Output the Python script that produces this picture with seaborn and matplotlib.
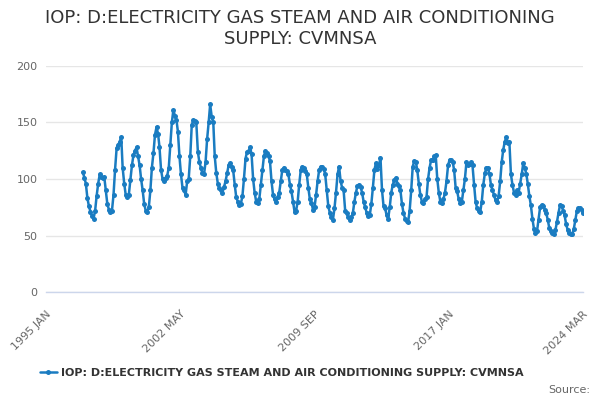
import numpy as np
import pandas as pd
import seaborn as sns
import matplotlib
matplotlib.use("Agg")
from matplotlib import pyplot as plt

# monthly values, Jan 1997 .. Mar 2024
v1997 = [106, 101, 96, 83, 76, 71, 67, 65, 72, 85, 96, 104]
v1998 = [102, 101, 102, 90, 78, 73, 71, 72, 86, 108, 127, 130]
v1999 = [133, 137, 110, 96, 86, 84, 86, 99, 112, 121, 125, 128]
v2000 = [120, 112, 100, 90, 78, 72, 71, 75, 90, 110, 123, 139]
v2001 = [146, 140, 128, 108, 100, 98, 101, 103, 110, 130, 150, 161]
v2002 = [156, 152, 142, 120, 104, 92, 90, 86, 98, 100, 120, 148]
v2003 = [152, 151, 150, 124, 115, 110, 105, 104, 115, 135, 150, 166]
v2004 = [155, 150, 120, 105, 96, 92, 90, 88, 93, 98, 105, 112]
v2005 = [114, 111, 108, 95, 84, 80, 77, 78, 85, 100, 118, 124]
v2006 = [125, 128, 122, 100, 88, 80, 79, 82, 95, 108, 120, 125]
v2007 = [123, 120, 116, 98, 86, 82, 80, 84, 88, 98, 108, 110]
v2008 = [108, 107, 104, 95, 89, 80, 71, 72, 80, 95, 108, 111]
v2009 = [110, 107, 104, 92, 82, 79, 73, 75, 86, 98, 108, 111]
v2010 = [111, 109, 104, 90, 76, 70, 66, 64, 74, 88, 104, 111]
v2011 = [98, 92, 90, 72, 70, 66, 64, 66, 70, 80, 88, 94]
v2012 = [95, 93, 88, 80, 75, 70, 67, 68, 78, 92, 108, 114]
v2013 = [109, 112, 119, 90, 76, 74, 68, 65, 75, 88, 95, 99]
v2014 = [101, 96, 94, 90, 78, 70, 65, 63, 62, 72, 90, 111]
v2015 = [116, 115, 108, 96, 86, 80, 79, 82, 84, 100, 110, 117]
v2016 = [117, 120, 121, 100, 88, 80, 79, 82, 88, 98, 112, 117]
v2017 = [117, 115, 108, 92, 89, 82, 79, 80, 90, 100, 115, 112]
v2018 = [113, 115, 112, 95, 80, 74, 72, 71, 80, 95, 105, 110]
v2019 = [110, 104, 95, 90, 86, 81, 80, 85, 98, 115, 126, 133]
v2020 = [137, 132, 133, 104, 95, 88, 86, 90, 88, 96, 104, 114]
v2021 = [110, 104, 96, 85, 77, 65, 56, 52, 54, 64, 75, 77]
v2022 = [76, 73, 70, 64, 57, 54, 52, 51, 55, 62, 70, 77]
v2023 = [76, 72, 68, 60, 55, 52, 51, 51, 56, 64, 72, 74]
v2024 = [74, 73, 70]

values = (v1997 + v1998 + v1999 + v2000 + v2001 + v2002 + v2003 + v2004 + v2005
          + v2006 + v2007 + v2008 + v2009 + v2010 + v2011 + v2012 + v2013 + v2014
          + v2015 + v2016 + v2017 + v2018 + v2019 + v2020 + v2021 + v2022 + v2023
          + v2024)
dates = pd.date_range("1997-01-01", periods=len(values), freq="MS")

series_name = "IOP: D:ELECTRICITY GAS STEAM AND AIR CONDITIONING SUPPLY: CVMNSA"
tick_labels = ["1995 JAN", "2002 MAY", "2009 SEP", "2017 JAN", "2024 MAR"]
x_start = pd.Timestamp("1995-01-01")
x_end = pd.Timestamp("2024-03-01")

sns.set_style("white")
plt.rcParams['font.family'] = ['DejaVu Sans']

df = pd.DataFrame({"date": dates, "value": values})

fig = plt.figure(figsize=(6, 4), dpi=100)
ax = fig.add_axes([0.0767, 0.27, 0.895, 0.565])

line_color = "#1a7cc1"
sns.lineplot(data=df, x="date", y="value", ax=ax, color=line_color,
			 linewidth=1.8, marker="o", markersize=3.6, markeredgewidth=0,
			 label=series_name, legend=False)

ax.set_xlim(x_start, x_end)
ax.set_ylim(0, 200)
ax.set_yticks([0, 50, 100, 150, 200])
ax.yaxis.grid(True, color="#e6e6e6", linewidth=1)
ax.set_axisbelow(True)
ax.tick_params(axis="y", length=0, labelsize=8, labelcolor="#666666", pad=6)

ticks = pd.date_range(x_start, x_end, periods=17)
ax.set_xticks(ticks)
labels = [""] * 17
for i, t in enumerate(tick_labels):
	labels[i * 4] = t
ax.set_xticklabels(labels, rotation=45, ha="right", va="top", rotation_mode="anchor")
ax.tick_params(axis="x", length=8, width=1, color="#ccd6eb", labelsize=8,
			   labelcolor="#666666", pad=4, direction="out")

for s in ["left", "right", "top"]:
	ax.spines[s].set_visible(False)
ax.spines["bottom"].set_color("#ccd6eb")
ax.spines["bottom"].set_linewidth(1)
ax.set_xlabel("")
ax.set_ylabel("")

fig.text(0.5, 0.955, "IOP: D:ELECTRICITY GAS STEAM AND AIR CONDITIONING", ha="center",
		 va="center", fontsize=13, color="#333333")
fig.text(0.5, 0.903, "SUPPLY: CVMNSA", ha="center", va="center", fontsize=13, color="#333333")

handles, lbls = ax.get_legend_handles_labels()
leg = fig.legend(handles, lbls, loc="center", bbox_to_anchor=(0.47, 0.068), frameon=False,
				 handlelength=1.5, handletextpad=0.4, prop={"weight": "bold", "size": 8})
for txt in leg.get_texts():
	txt.set_color("#333333")

fig.text(0.983, 0.025, "Source:", ha="right", va="center", fontsize=8, color="#666666")

fig.savefig("out.png", dpi=100)
